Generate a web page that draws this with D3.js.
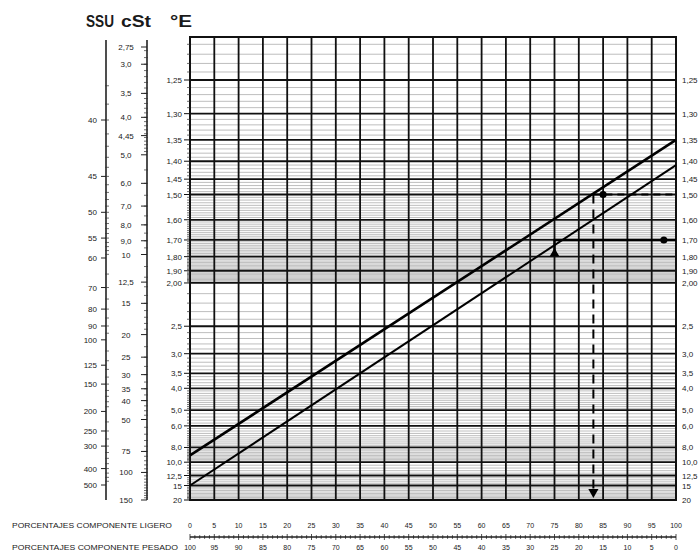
<!DOCTYPE html>
<html>
<head>
<meta charset="utf-8">
<script src="https://cdn.jsdelivr.net/npm/d3@7"></script>
<style>
  body { margin: 0; background: #fff; }
  svg text { font-family: "Liberation Sans", Arial, sans-serif; fill: #1a1a1a; }
</style>
</head>
<body>
<div id="chart"></div>
<script>
// axis labels, as printed (decimal comma)
const eLabels = ["1,25","1,30","1,35","1,40","1,45","1,50","1,60","1,70","1,80","1,90","2,00",
                 "2,5","3,0","3,5","4,0","5,0","6,0","8,0","10,0","12,5","15","20"];
const cstLabels = ["2,75","3,0","3,5","4,0","4,45","5,0","6,0","7,0","8,0","9,0","10","12,5",
                   "15","20","25","30","35","40","50","75","100","150"];
const ssuLabels = ["40","45","50","55","60","70","80","90","100","125","150","200","250","300","400","500"];
const ligeroTicks = [0,5,10,15,20,25,30,35,40,45,50,55,60,65,70,75,80,85,90,95,100];
const pesadoTicks = [100,95,90,85,80,75,70,65,60,55,50,45,40,35,30,25,20,15,10,5,0];

// blend lines: °E of heavy component (0 % light) and light component (100 % light)
const heavyE = [9.0, 15.0];
const lightE = [1.35, 1.41];

// worked example read-offs
const dashPct = 83, dashE = 1.50;
const solidPct = 75, solidE = 1.70, solidStartE = 1.78;
const dotPoints = [[85, 1.50], [97.5, 1.70]];

const width = 700, height = 560;
const margin = { top: 37, right: 24, bottom: 60, left: 190 };
const num = s => +s.replace(',', '.');
const loglog = v => Math.log(Math.log(v));
const eT = e => loglog(e - 0.08);
const cT = v => loglog(v + 0.8);
const ssuToCst = s => s <= 100 ? 0.226 * s - 195 / s : 0.22 * s - 135 / s;

const svg = d3.select('#chart').append('svg')
  .attr('width', width).attr('height', height)
  .style('background-color', '#fff');

const x = d3.scaleLinear().domain([0, 100]).range([margin.left, width - margin.right]);
const yE = d3.scaleLinear().domain([eT(1.25), eT(20)]).range([80, height - margin.bottom]);
const yC = d3.scaleLinear().domain([cT(2.75), cT(150)]).range([47, height - margin.bottom]);
const yS = d3.scaleLinear().domain([cT(ssuToCst(40)), cT(ssuToCst(500))]).range([120, 485]);
const ey = e => yE(eT(e));
const plotTop = margin.top, plotBottom = height - margin.bottom;

// minor grid values in °E
const minorE = [].concat(
  d3.range(121, 200).map(d => d / 100),
  d3.range(21, 50).map(d => d / 10),
  d3.range(26, 50).map(d => d / 5),
  d3.range(21, 40).map(d => d / 2)
).filter(e => !eLabels.some(l => Math.abs(num(l) - e) < 1e-9));

svg.append('defs').append('clipPath').attr('id', 'plotclip')
  .append('rect')
  .attr('x', x(0)).attr('y', plotTop)
  .attr('width', x(100) - x(0)).attr('height', plotBottom - plotTop);

const grid = svg.append('g').attr('clip-path', 'url(#plotclip)');

grid.append('g')
  .attr('stroke', '#777')
  .attr('stroke-width', 0.6)
  .attr('stroke-opacity', 0.8)
  .selectAll('line')
  .data(minorE)
  .join('line')
    .attr('x1', x(0)).attr('x2', x(100))
    .attr('y1', d => ey(d)).attr('y2', d => ey(d));

grid.append('g')
  .attr('stroke', '#111')
  .attr('stroke-width', 1.8)
  .selectAll('line')
  .data(eLabels)
  .join('line')
    .attr('x1', x(0)).attr('x2', x(100))
    .attr('y1', d => ey(num(d))).attr('y2', d => ey(num(d)));

grid.append('g')
  .attr('stroke', '#111')
  .attr('stroke-width', 1.8)
  .selectAll('line')
  .data(ligeroTicks)
  .join('line')
    .attr('x1', d => x(d)).attr('x2', d => x(d))
    .attr('y1', plotTop).attr('y2', plotBottom);

svg.append('rect')
  .attr('x', x(0)).attr('y', plotTop)
  .attr('width', x(100) - x(0)).attr('height', plotBottom - plotTop)
  .attr('fill', 'none').attr('stroke', '#111').attr('stroke-width', 2);

// °E labels both sides
const eAxis = svg.append('g');
eAxis.selectAll('text.l')
  .data(eLabels)
  .join('text')
    .attr('class', 'l')
    .attr('x', x(0) - 8).attr('y', d => ey(num(d)) + 3)
    .attr('text-anchor', 'end')
    .attr('font-size', 8)
    .text(d => d);
eAxis.selectAll('text.r')
  .data(eLabels)
  .join('text')
    .attr('class', 'r')
    .attr('x', x(100) + 6).attr('y', d => ey(num(d)) + 3)
    .attr('font-size', 8)
    .text(d => d);
eAxis.append('g')
  .attr('stroke', '#111').attr('stroke-width', 1)
  .selectAll('line')
  .data(eLabels)
  .join('line')
    .attr('x1', x(0) - 6).attr('x2', x(0))
    .attr('y1', d => ey(num(d))).attr('y2', d => ey(num(d)));
eAxis.append('g')
  .attr('stroke', '#333').attr('stroke-width', 0.7)
  .selectAll('line')
  .data(minorE)
  .join('line')
    .attr('x1', x(0) - 3).attr('x2', x(0))
    .attr('y1', d => ey(d)).attr('y2', d => ey(d));

// cSt axis
const cX = 147;
const minorC = [].concat(
  d3.range(28, 50).map(d => d / 10),
  d3.range(11, 20).map(d => d / 2),
  d3.range(11, 20),
  d3.range(9, 20).map(d => d * 2.5),
  d3.range(11, 30).map(d => d * 5)
);
const cAxis = svg.append('g');
cAxis.append('line')
  .attr('x1', cX).attr('x2', cX)
  .attr('y1', 40).attr('y2', plotBottom)
  .attr('stroke', '#222').attr('stroke-width', 1.6);
cAxis.append('g')
  .attr('stroke', '#333').attr('stroke-width', 0.7)
  .selectAll('line')
  .data(minorC)
  .join('line')
    .attr('x1', cX - 3).attr('x2', cX + 1)
    .attr('y1', d => yC(cT(d))).attr('y2', d => yC(cT(d)));
cAxis.append('g')
  .attr('stroke', '#222').attr('stroke-width', 1)
  .selectAll('line')
  .data(cstLabels)
  .join('line')
    .attr('x1', cX - 6).attr('x2', cX)
    .attr('y1', d => yC(cT(num(d)))).attr('y2', d => yC(cT(num(d))));
cAxis.selectAll('text')
  .data(cstLabels)
  .join('text')
    .attr('x', 126).attr('y', d => yC(cT(num(d))) + 3)
    .attr('text-anchor', 'middle')
    .attr('font-size', 8)
    .text(d => d);

// SSU axis
const sX = 106;
const minorS = [].concat(
  d3.range(38, 60),
  d3.range(13, 20).map(d => d * 5),
  d3.range(11, 20).map(d => d * 10),
  d3.range(9, 20).map(d => d * 25)
);
const sAxis = svg.append('g');
sAxis.append('line')
  .attr('x1', sX).attr('x2', sX)
  .attr('y1', 40).attr('y2', plotBottom)
  .attr('stroke', '#222').attr('stroke-width', 1.6);
sAxis.append('g')
  .attr('stroke', '#333').attr('stroke-width', 0.7)
  .selectAll('line')
  .data(minorS)
  .join('line')
    .attr('x1', sX - 1).attr('x2', sX + 3)
    .attr('y1', d => yS(cT(ssuToCst(d)))).attr('y2', d => yS(cT(ssuToCst(d))));
sAxis.append('g')
  .attr('stroke', '#222').attr('stroke-width', 1)
  .selectAll('line')
  .data(ssuLabels)
  .join('line')
    .attr('x1', sX - 5).attr('x2', sX)
    .attr('y1', d => yS(cT(ssuToCst(+d)))).attr('y2', d => yS(cT(ssuToCst(+d))));
sAxis.selectAll('text')
  .data(ssuLabels)
  .join('text')
    .attr('x', 97).attr('y', d => yS(cT(ssuToCst(+d))) + 3)
    .attr('text-anchor', 'end')
    .attr('font-size', 8)
    .text(d => d);

// title
const title = svg.append('g')
  .attr('font-weight', 'bold').attr('font-size', 17);
title.append('text').attr('x', 86).attr('y', 27)
  .attr('textLength', 28).attr('lengthAdjust', 'spacingAndGlyphs').text('SSU');
title.append('text').attr('x', 121).attr('y', 27)
  .attr('textLength', 30).attr('lengthAdjust', 'spacingAndGlyphs').text('cSt');
title.append('text').attr('x', 170).attr('y', 27)
  .attr('textLength', 22).attr('lengthAdjust', 'spacingAndGlyphs').text('°E');

// blend lines
const blendLine = d3.line()
  .x(d => x(d[0]))
  .y(d => ey(d[1]));
svg.append('g')
  .attr('fill', 'none').attr('stroke', '#000')
  .selectAll('path')
  .data(heavyE.map((h, i) => [[0, h], [100, lightE[i]]]))
  .join('path')
    .attr('stroke-width', (d, i) => i === 0 ? 2.6 : 2)
    .attr('d', blendLine);

// worked example
const guides = svg.append('g').attr('fill', 'none').attr('stroke', '#000');
guides.append('path')
  .attr('stroke-width', 2).attr('stroke-dasharray', '7,5')
  .attr('d', blendLine([[dashPct, dashE], [100, dashE]]));
guides.append('path')
  .attr('stroke-width', 2).attr('stroke-dasharray', '9,6')
  .attr('d', blendLine([[dashPct, dashE], [dashPct, 17]]));
guides.append('path')
  .attr('stroke-width', 2.4)
  .attr('d', blendLine([[solidPct, solidStartE], [solidPct, solidE], [100, solidE]]));

svg.append('g')
  .selectAll('path')
  .data(dotPoints)
  .join('path')
    .attr('transform', d => `translate(${x(d[0])},${ey(d[1])})`)
    .attr('d', d3.symbol(d3.symbolCircle, 40));
svg.append('path')
  .attr('transform', `translate(${x(solidPct)},${ey(solidStartE)})`)
  .attr('d', d3.symbol(d3.symbolTriangle, 40));
svg.append('path')
  .attr('transform', `translate(${x(dashPct)},${ey(17)}) rotate(180)`)
  .attr('d', d3.symbol(d3.symbolTriangle, 45));

// percentage axis
const axisY = 537;
const pAxis = svg.append('g');
pAxis.append('line')
  .attr('x1', x(0)).attr('x2', x(100))
  .attr('y1', axisY).attr('y2', axisY)
  .attr('stroke', '#222').attr('stroke-width', 1.4);
pAxis.append('g')
  .attr('stroke', '#222').attr('stroke-width', 0.8)
  .selectAll('line')
  .data(d3.range(0, 101))
  .join('line')
    .attr('x1', d => x(d)).attr('x2', d => x(d))
    .attr('y1', d => axisY - (d % 5 === 0 ? 3 : 1.8))
    .attr('y2', d => axisY + (d % 5 === 0 ? 3 : 1.8));
pAxis.selectAll('text.lig')
  .data(ligeroTicks)
  .join('text')
    .attr('class', 'lig')
    .attr('x', d => x(d)).attr('y', 528)
    .attr('text-anchor', 'middle').attr('font-size', 7)
    .text(d => d);
pAxis.selectAll('text.pes')
  .data(pesadoTicks)
  .join('text')
    .attr('class', 'pes')
    .attr('x', (d, i) => x(ligeroTicks[i])).attr('y', 550)
    .attr('text-anchor', 'middle').attr('font-size', 7)
    .text(d => d);
pAxis.append('text')
  .attr('x', 12).attr('y', 528).attr('font-size', 6.5)
  .attr('textLength', 160).attr('lengthAdjust', 'spacingAndGlyphs')
  .text('PORCENTAJES COMPONENTE LIGERO');
pAxis.append('text')
  .attr('x', 12).attr('y', 550).attr('font-size', 6.5)
  .attr('textLength', 166).attr('lengthAdjust', 'spacingAndGlyphs')
  .text('PORCENTAJES COMPONENTE PESADO');
</script>
</body>
</html>
